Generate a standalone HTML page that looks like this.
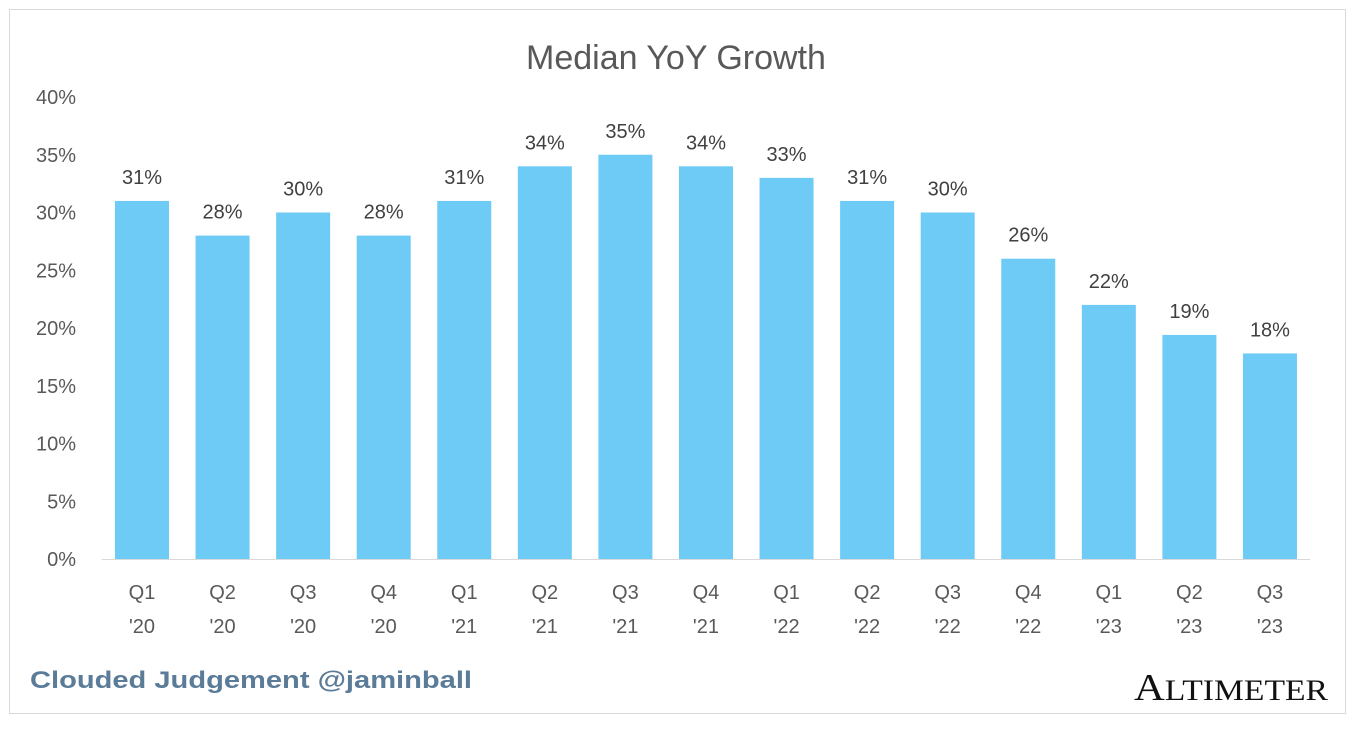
<!DOCTYPE html>
<html><head><meta charset="utf-8">
<style>
body{margin:0;background:#fff;width:1357px;height:730px;overflow:hidden;font-family:"Liberation Sans",sans-serif;}
#frame{position:absolute;left:9px;top:9px;width:1337px;height:705px;border:1px solid #d9d9d9;box-sizing:border-box;}
</style></head>
<body>
<div id="frame"></div>
<svg id="chart" width="1357" height="730" style="position:absolute;left:0;top:0">
<text x="676" y="69" text-anchor="middle" font-size="34" fill="#595959">Median YoY Growth</text>
<g id="axes"></g><g id="bars"></g>
<text x="30" y="688" font-size="24" font-weight="bold" fill="#5b7c98" textLength="442" lengthAdjust="spacingAndGlyphs">Clouded Judgement @jaminball</text>
<text x="1328" y="700" text-anchor="end" font-family="Liberation Serif,serif" font-size="38" fill="#111" textLength="194" lengthAdjust="spacingAndGlyphs">A<tspan font-size="30">LTIMETER</tspan></text>
</svg>
<script>
const quarters=["Q1","Q2","Q3","Q4","Q1","Q2","Q3","Q4","Q1","Q2","Q3","Q4","Q1","Q2","Q3"];
const years=["'20","'20","'20","'20","'21","'21","'21","'21","'22","'22","'22","'22","'23","'23","'23"];
const values=[31,28,30,28,31,34,35,34,33,31,30,26,22,19.4,17.8];
const labels=["31%","28%","30%","28%","31%","34%","35%","34%","33%","31%","30%","26%","22%","19%","18%"];
const ticks=[0,5,10,15,20,25,30,35,40];
const NS="http://www.w3.org/2000/svg";
const x0=101.7,pitch=80.57,yBase=559,pxPer=11.55,bw=54;
const y=v=>yBase-v*pxPer;
const xc=i=>x0+pitch*(i+0.5);
const axes=document.getElementById('axes'),bars=document.getElementById('bars');
function mk(tag,attrs,parent,txt){const e=document.createElementNS(NS,tag);for(const k in attrs)e.setAttribute(k,attrs[k]);if(txt!==undefined)e.textContent=txt;parent.appendChild(e);return e;}
ticks.forEach(t=>{
  const e=mk('text',{x:76,y:y(t)+7,'text-anchor':'end','font-size':20,fill:'#595959'},axes,t+'%');
  
  
});
const ax=mk('line',{x1:x0,x2:x0+pitch*values.length,y1:yBase+0.5,y2:yBase+0.5,stroke:'#d9d9d9','stroke-width':1},axes);


values.forEach((v,i)=>{
  const r=mk('rect',{x:xc(i)-bw/2,y:y(v),width:bw,height:v*pxPer,fill:'#6ecbf5'},bars);
  
  
  const l=mk('text',{x:xc(i),y:y(v)-17,'text-anchor':'middle','font-size':20,fill:'#404040'},bars,labels[i]);
  
  
  const q=mk('text',{x:xc(i),y:599,'text-anchor':'middle','font-size':20,fill:'#595959'},axes,quarters[i]);
  
  
  const yr=mk('text',{x:xc(i),y:633,'text-anchor':'middle','font-size':20,fill:'#595959'},axes,years[i]);
  
  
});
</script>
</body></html>
